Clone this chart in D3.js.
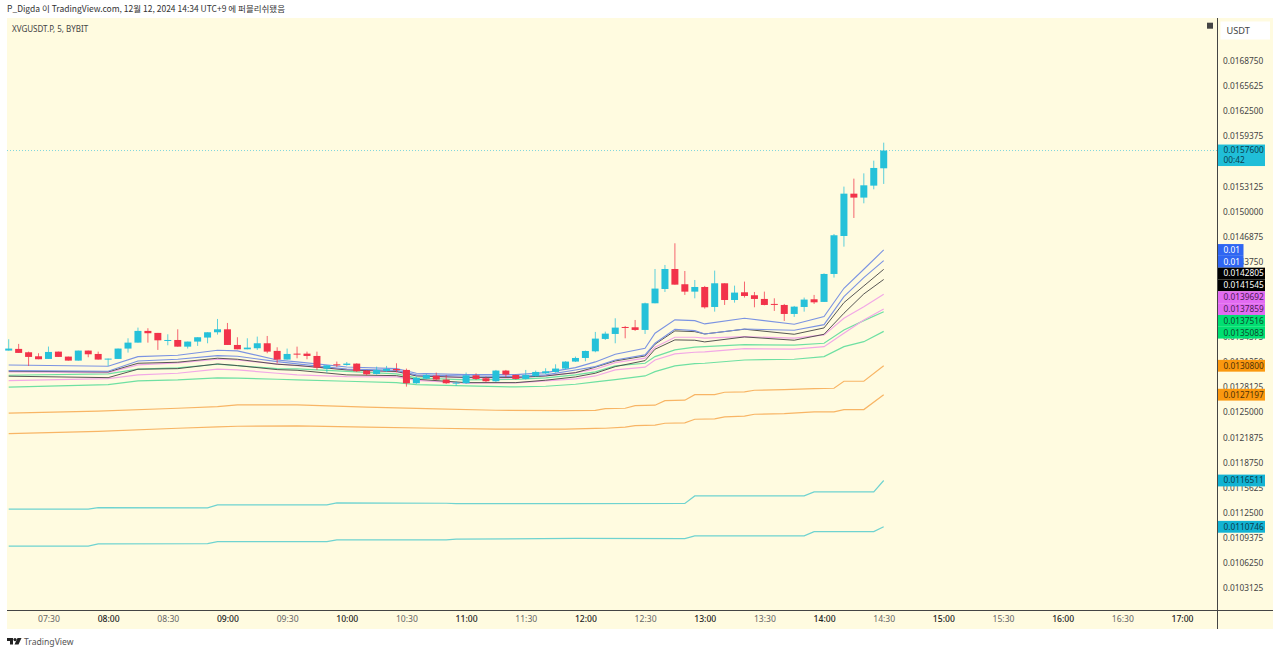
<!DOCTYPE html>
<html>
<head>
<meta charset="utf-8">
<script src="https://cdn.jsdelivr.net/npm/d3@7"></script>
<style>
  html, body { margin: 0; background: #fff; overflow: hidden; }
  text { font-family: "Noto Sans", "Noto Sans CJK KR", sans-serif; }
</style>
</head>
<body>
<div id="chart"></div>
<script>
// 5 minute candles, one entry per bar starting at 07:10
var firstBar = "07:10";
var opens = [0.013269,0.013290,0.013248,0.013198,0.013165,0.013256,0.013194,0.013144,0.013269,0.013227,0.013157,0.013165,0.013294,0.013368,0.013514,0.013489,0.013393,0.013401,0.013318,0.013381,0.013431,0.013497,0.013534,0.013339,0.013285,0.013298,0.013360,0.013265,0.013157,0.013231,
  0.013231,0.013202,0.013044,0.013098,0.013090,0.013107,0.013020,0.012978,0.013015,0.013040,0.013028,0.012862,0.012920,0.012957,0.012908,0.012858,0.012862,0.012961,0.012924,0.012887,0.013020,0.012966,0.012916,0.012949,0.012986,0.013003,0.013045,0.013132,0.013177,0.013260,
  0.013414,0.013476,0.013563,0.013559,0.013526,0.013858,0.014036,0.014285,0.014095,0.014003,0.014061,0.013812,0.014107,0.013899,0.013995,0.013958,0.013912,0.013850,0.013837,0.013725,0.013812,0.013908,0.013875,0.014223,0.014696,0.015223,0.015174,0.015323,0.015539];
var highs = [0.013410,0.013352,0.013256,0.013236,0.013319,0.013256,0.013194,0.013269,0.013269,0.013256,0.013169,0.013294,0.013422,0.013555,0.013547,0.013489,0.013472,0.013534,0.013381,0.013435,0.013497,0.013663,0.013613,0.013435,0.013422,0.013443,0.013451,0.013310,0.013294,0.013318,
  0.013256,0.013256,0.013086,0.013132,0.013127,0.013111,0.013028,0.013069,0.013078,0.013111,0.013045,0.012945,0.012978,0.012995,0.012966,0.012887,0.012995,0.012986,0.012945,0.013028,0.013028,0.012970,0.013028,0.013020,0.013049,0.013098,0.013136,0.013194,0.013269,0.013501,
  0.013505,0.013671,0.013576,0.013650,0.013866,0.014285,0.014335,0.014605,0.014260,0.014148,0.014074,0.014265,0.014107,0.014078,0.014128,0.013999,0.014003,0.013920,0.013850,0.013825,0.013929,0.013962,0.014231,0.014721,0.015311,0.015410,0.015476,0.015634,0.015858];
var lows = [0.013269,0.013240,0.013078,0.013161,0.013165,0.013190,0.013144,0.013144,0.013186,0.013157,0.013078,0.013165,0.013244,0.013368,0.013368,0.013277,0.013335,0.013318,0.013294,0.013327,0.013360,0.013468,0.013339,0.013285,0.013285,0.013277,0.013236,0.013111,0.013157,0.013173,
  0.013161,0.013028,0.012995,0.013065,0.013082,0.013003,0.012961,0.012970,0.013003,0.012999,0.012820,0.012854,0.012912,0.012899,0.012854,0.012829,0.012854,0.012903,0.012878,0.012878,0.012937,0.012908,0.012908,0.012945,0.012978,0.012995,0.013036,0.013127,0.013136,0.013248,
  0.013401,0.013360,0.013422,0.013514,0.013476,0.013858,0.013999,0.014090,0.013962,0.013920,0.013792,0.013754,0.013837,0.013866,0.013929,0.013808,0.013833,0.013763,0.013638,0.013688,0.013754,0.013850,0.013875,0.014178,0.014563,0.014920,0.015103,0.015277,0.015344];
var closes = [0.013294,0.013240,0.013190,0.013161,0.013252,0.013190,0.013144,0.013269,0.013223,0.013157,0.013169,0.013294,0.013368,0.013514,0.013485,0.013397,0.013401,0.013318,0.013381,0.013435,0.013497,0.013534,0.013339,0.013285,0.013306,0.013360,0.013256,0.013157,0.013227,0.013219,
  0.013202,0.013057,0.013086,0.013086,0.013107,0.013011,0.012974,0.013028,0.013040,0.013024,0.012862,0.012928,0.012966,0.012908,0.012862,0.012870,0.012961,0.012916,0.012887,0.013020,0.012970,0.012916,0.012966,0.013003,0.013011,0.013045,0.013132,0.013177,0.013264,0.013418,
  0.013480,0.013555,0.013555,0.013526,0.013858,0.014041,0.014285,0.014090,0.014003,0.014061,0.013808,0.014107,0.013899,0.013991,0.013949,0.013912,0.013837,0.013841,0.013725,0.013816,0.013904,0.013870,0.014223,0.014705,0.015223,0.015174,0.015327,0.015543,0.015760];

// Envelope lines, read at these times
var bandTimes = ["07:10","08:00","08:15","08:35","08:55","09:05","09:25","09:35","10:00","10:25","10:35","11:00","11:25","11:40","11:55","12:05","12:15","12:30","12:35","12:45","12:55","13:00","13:20","13:45","14:00","14:10","14:20","14:30"];
var blueUpper = [0.013090,0.013074,0.013194,0.013211,0.013273,0.013265,0.013152,0.013128,0.013065,0.013044,0.012987,0.012969,0.012969,0.012994,0.013057,0.013128,0.013223,0.013298,0.013485,0.013651,0.013642,0.013601,0.013672,0.013597,0.013692,0.014045,0.014282,0.014522];
var blueLower = [0.013019,0.013012,0.013140,0.013161,0.013206,0.013199,0.013131,0.013103,0.013040,0.013022,0.012966,0.012953,0.012947,0.012966,0.013028,0.013069,0.013152,0.013215,0.013360,0.013535,0.013517,0.013476,0.013538,0.013522,0.013592,0.013941,0.014177,0.014389];
var blackUpper = [0.013012,0.013003,0.013111,0.013124,0.013174,0.013161,0.013099,0.013084,0.013028,0.013009,0.012953,0.012935,0.012935,0.012953,0.012994,0.013062,0.013140,0.013202,0.013348,0.013514,0.013505,0.013476,0.013535,0.013472,0.013551,0.013866,0.014074,0.0142805];
var blackLower = [0.012950,0.012932,0.013037,0.013044,0.013103,0.013082,0.013032,0.013024,0.012966,0.012957,0.012912,0.012870,0.012870,0.012900,0.012941,0.012987,0.013069,0.013144,0.013286,0.013402,0.013398,0.013377,0.013439,0.013398,0.013472,0.013734,0.013974,0.0141545];
var pinkUpper = [0.013003,0.012994,0.013090,0.013115,0.013161,0.013152,0.013103,0.013080,0.013034,0.013003,0.012960,0.012928,0.012928,0.012953,0.012994,0.013037,0.013119,0.013174,0.013311,0.013435,0.013435,0.013423,0.013443,0.013423,0.013464,0.013672,0.013816,0.0139692];
var pinkLower = [0.012895,0.012920,0.012966,0.012987,0.013037,0.013028,0.012987,0.012966,0.012945,0.012941,0.012897,0.012862,0.012866,0.012891,0.012916,0.012953,0.013028,0.013062,0.013152,0.013227,0.013248,0.013252,0.013293,0.013286,0.013318,0.013485,0.013651,0.0137859];
var greenUpper = [0.012962,0.012978,0.013037,0.013053,0.013099,0.013082,0.013044,0.013040,0.013009,0.012978,0.012928,0.012903,0.012910,0.012928,0.012966,0.013003,0.013078,0.013111,0.013194,0.013277,0.013311,0.013318,0.013343,0.013336,0.013360,0.013526,0.013642,0.0137516];
var greenLower = [0.012813,0.012845,0.012891,0.012903,0.012928,0.012925,0.012912,0.012903,0.012887,0.012870,0.012845,0.012829,0.012816,0.012825,0.012850,0.012879,0.012907,0.012953,0.013007,0.013078,0.013106,0.013111,0.013152,0.013161,0.013194,0.013318,0.013380,0.0135083];

var orangeTimes = ["07:10","07:55","08:35","08:55","09:05","09:35","10:10","10:45","11:15","11:50","12:05","12:10","12:20","12:25","12:35","12:40","12:50","12:55","13:05","13:10","13:20","13:25","13:40","13:55","14:05","14:10","14:20","14:30"];
var orangeUpper = [0.012489,0.012514,0.012551,0.012571,0.012592,0.012592,0.012564,0.012542,0.012526,0.012521,0.012524,0.012546,0.012551,0.012584,0.012589,0.012646,0.012651,0.012720,0.012720,0.012750,0.012754,0.012775,0.012783,0.012795,0.012800,0.012887,0.012887,0.0130800];
var orangeLower = [0.012235,0.012262,0.012302,0.012318,0.012327,0.012331,0.012315,0.012302,0.012290,0.012290,0.012300,0.012302,0.012315,0.012335,0.012340,0.012364,0.012368,0.012414,0.012418,0.012443,0.012452,0.012476,0.012484,0.012505,0.012505,0.012534,0.012534,0.0127197];

var tealTimes = ["07:10","07:50","07:55","08:50","08:55","09:50","09:55","10:50","10:55","11:55","12:50","12:55","13:50","13:55","14:25","14:30"];
var tealUpper = [0.011294,0.011294,0.011314,0.011310,0.011347,0.011347,0.011372,0.011368,0.011363,0.011363,0.011366,0.011459,0.011459,0.011509,0.011509,0.0116511];
var tealLower = [0.010833,0.010833,0.010862,0.010865,0.010890,0.010890,0.010912,0.010912,0.010920,0.010930,0.010928,0.010961,0.010961,0.011015,0.011015,0.0110746];

var priceTicks = [0.016875,0.0165625,0.01625,0.0159375,0.015625,0.0153125,0.015,0.0146875,0.014375,0.0140625,0.01375,0.0134375,0.013125,0.0128125,0.0125,0.0121875,0.011875,0.0115625,0.01125,0.0109375,0.010625,0.0103125];
var timeTicks = ["07:30","08:00","08:30","09:00","09:30","10:00","10:30","11:00","11:30","12:00","12:30","13:00","13:30","14:00","14:30","15:00","15:30","16:00","16:30","17:00"];

var lastPrice = 0.01576;
var countdown = "00:42";

var width = 1280, height = 654;
var plot = { left: 7, right: 1217, top: 18, bottom: 610, panelRight: 1273, panelBottom: 629 };
var upColor = "#26c1d9", downColor = "#f2334a";
var axisFont = 8.3;

var parseTime = d3.timeParse("%H:%M");
var formatPrice = d3.format(".7f");

var xScale = d3.scaleTime()
  .domain([parseTime(firstBar), parseTime("17:00")])
  .range([8.7, 1182]);
var yScale = d3.scaleLinear()
  .domain([0.0103125, 0.016875])
  .range([588, 61]);

var candles = opens.map(function(o, i) {
  return {
    time: d3.timeMinute.offset(parseTime(firstBar), i * 5),
    open: o, high: highs[i], low: lows[i], close: closes[i]
  };
});

var bands = [
  { times: tealTimes, values: tealUpper, color: "#6fd3d0", w: 1.2 },
  { times: tealTimes, values: tealLower, color: "#6fd3d0", w: 1.2 },
  { times: orangeTimes, values: orangeUpper, color: "#f8b565", w: 1.2 },
  { times: orangeTimes, values: orangeLower, color: "#f8b565", w: 1.2 },
  { times: bandTimes, values: greenUpper, color: "#6fe0a2", w: 1.2 },
  { times: bandTimes, values: greenLower, color: "#6fe0a2", w: 1.2 },
  { times: bandTimes, values: pinkUpper, color: "#f2a8e6", w: 1.2 },
  { times: bandTimes, values: pinkLower, color: "#f2a8e6", w: 1.2 },
  { times: bandTimes, values: blackUpper, color: "#444444", w: 0.9 },
  { times: bandTimes, values: blackLower, color: "#444444", w: 0.9 },
  { times: bandTimes, values: blueUpper, color: "#7b93e2", w: 1.1 },
  { times: bandTimes, values: blueLower, color: "#7b93e2", w: 1.1 }
];

var svg = d3.select("#chart").append("svg")
  .attr("width", width)
  .attr("height", height)
  .style("display", "block");

// Panel
svg.append("rect")
  .attr("x", plot.left).attr("y", plot.top)
  .attr("width", plot.panelRight - plot.left)
  .attr("height", plot.panelBottom - plot.top)
  .attr("fill", "#fffbe0");

// Last price line
svg.append("line")
  .attr("x1", plot.left).attr("x2", plot.right)
  .attr("y1", yScale(lastPrice)).attr("y2", yScale(lastPrice))
  .attr("stroke", "#7fd6dc")
  .attr("stroke-dasharray", "1 2");

// Envelope lines
var line = d3.line()
  .x(function(d) { return xScale(d.time); })
  .y(function(d) { return yScale(d.value); });

svg.append("g").selectAll("path")
  .data(bands)
  .enter()
  .append("path")
  .attr("fill", "none")
  .attr("stroke", function(d) { return d.color; })
  .attr("stroke-width", function(d) { return d.w; })
  .attr("d", function(d) {
    return line(d.values.map(function(v, i) {
      return { time: parseTime(d.times[i]), value: v };
    }));
  });

// Candles
var candle = svg.append("g").selectAll("g")
  .data(candles)
  .enter()
  .append("g")
  .attr("fill", function(d) { return d.close >= d.open ? upColor : downColor; })
  .attr("stroke", function(d) { return d.close >= d.open ? upColor : downColor; });

candle.append("line")
  .attr("x1", function(d) { return xScale(d.time); })
  .attr("x2", function(d) { return xScale(d.time); })
  .attr("y1", function(d) { return yScale(d.high); })
  .attr("y2", function(d) { return yScale(d.low); })
  .attr("stroke-opacity", 0.75);

candle.append("rect")
  .attr("x", function(d) { return xScale(d.time) - 3.5; })
  .attr("width", 7)
  .attr("y", function(d) { return yScale(Math.max(d.open, d.close)); })
  .attr("height", function(d) { return Math.max(1, Math.abs(yScale(d.open) - yScale(d.close))); })
  .attr("stroke", "none");

// Axes
var priceAxis = svg.append("g")
  .attr("transform", "translate(" + plot.right + ",0)")
  .call(d3.axisRight(yScale).tickValues(priceTicks).tickFormat(formatPrice).tickSize(0).tickPadding(6));
priceAxis.select(".domain").remove();
priceAxis.selectAll("text").attr("font-size", axisFont).attr("fill", "#444");

var timeAxis = svg.append("g")
  .attr("transform", "translate(0," + plot.bottom + ")")
  .call(d3.axisBottom(xScale)
    .tickValues(timeTicks.map(parseTime))
    .tickFormat(d3.timeFormat("%H:%M"))
    .tickSize(0).tickPadding(6));
timeAxis.select(".domain").remove();
timeAxis.selectAll("text")
  .attr("font-size", axisFont + 0.3)
  .attr("fill", function(d) { return d.getMinutes() === 0 ? "#222" : "#666"; })
  .attr("font-weight", function(d) { return d.getMinutes() === 0 ? 500 : 400; });

svg.append("line")
  .attr("x1", plot.left).attr("x2", plot.panelRight)
  .attr("y1", plot.bottom + 0.5).attr("y2", plot.bottom + 0.5)
  .attr("stroke", "#444");
svg.append("line")
  .attr("x1", plot.right + 0.5).attr("x2", plot.right + 0.5)
  .attr("y1", plot.top).attr("y2", plot.panelBottom)
  .attr("stroke", "#444");

// Price labels stacked on the right, pushed down where they would overlap
var labelHeight = 11.8;
var priceLabels = [
  { value: blueUpper[27], text: "0.01", fill: "#2f66f2", color: "#fff", w: 25.5 },
  { value: blueLower[27], text: "0.01", fill: "#2f66f2", color: "#fff", w: 25.5 },
  { value: blackUpper[27], fill: "#000", color: "#fff" },
  { value: blackLower[27], fill: "#000", color: "#fff" },
  { value: pinkUpper[27], fill: "#e26bf2", color: "#4a1d52" },
  { value: pinkLower[27], fill: "#e26bf2", color: "#4a1d52" },
  { value: greenUpper[27], fill: "#00df72", color: "#0b4a2c" },
  { value: greenLower[27], fill: "#00df72", color: "#0b4a2c" },
  { value: orangeUpper[27], fill: "#fb980f", color: "#4d3208" },
  { value: orangeLower[27], fill: "#fb980f", color: "#4d3208" },
  { value: tealUpper[15], fill: "#12b3d3", color: "#0c3e4d" },
  { value: tealLower[15], fill: "#12b3d3", color: "#0c3e4d" }
];
var prevY = -Infinity;
priceLabels.forEach(function(d) {
  d.y = Math.max(yScale(d.value), prevY + labelHeight);
  prevY = d.y;
});

var labelGroup = svg.append("g").selectAll("g")
  .data(priceLabels)
  .enter()
  .append("g")
  .attr("transform", function(d) { return "translate(" + (plot.right + 1) + "," + d.y + ")"; });
labelGroup.append("rect")
  .attr("y", -labelHeight / 2)
  .attr("width", function(d) { return d.w || 47; })
  .attr("height", labelHeight)
  .attr("fill", function(d) { return d.fill; });
labelGroup.append("text")
  .attr("x", 5.5)
  .attr("dy", "0.35em")
  .attr("font-size", axisFont)
  .attr("fill", function(d) { return d.color; })
  .text(function(d) { return d.text || formatPrice(d.value); });

// Last price label with countdown
var lastY = yScale(lastPrice);
svg.append("rect")
  .attr("x", plot.right + 1).attr("y", lastY - 6)
  .attr("width", 47).attr("height", 21.5)
  .attr("fill", "#20bed8");
svg.append("text")
  .attr("x", plot.right + 6.5).attr("y", lastY)
  .attr("dy", "0.35em").attr("font-size", axisFont).attr("fill", "#0b4150")
  .text(formatPrice(lastPrice));
svg.append("text")
  .attr("x", plot.right + 6.5).attr("y", lastY + 10)
  .attr("dy", "0.35em").attr("font-size", axisFont).attr("fill", "#0b4150")
  .text(countdown);

// USDT box and corner square
svg.append("rect")
  .attr("x", 1220.5).attr("y", 21.5).attr("width", 49.5).attr("height", 18)
  .attr("fill", "#fff");
svg.append("text")
  .attr("x", 1226.5).attr("y", 30.5).attr("dy", "0.35em")
  .attr("font-size", 9.2).attr("fill", "#444")
  .text("USDT");
svg.append("rect")
  .attr("x", 1207).attr("y", 22.7).attr("width", 6).attr("height", 6)
  .attr("fill", "#444");

// Header and symbol
svg.append("text")
  .attr("x", 7).attr("y", 9.5).attr("dy", "0.35em")
  .attr("font-size", 8.5).attr("fill", "#333")
  .style("font-family", "'Noto Sans CJK KR', 'Noto Sans', sans-serif")
  .text("P_Digda 이 TradingView.com, 12월 12, 2024 14:34 UTC+9 에 퍼블리쉬됐음");
svg.append("text")
  .attr("x", 12).attr("y", 29).attr("dy", "0.35em")
  .attr("font-size", 8).attr("fill", "#444")
  .text("XVGUSDT.P, 5, BYBIT");

// Footer logo
var logo = svg.append("g").attr("transform", "translate(7,638)").attr("fill", "#222");
logo.append("path").attr("d", "M0 0H6V6.5H3V3H0Z");
logo.append("circle").attr("cx", 8).attr("cy", 1.6).attr("r", 1.6);
logo.append("path").attr("d", "M10.5 0H14.5L11.5 6.5H7.5Z");
svg.append("text")
  .attr("x", 24).attr("y", 641.5).attr("dy", "0.35em")
  .attr("font-size", 8.6).attr("fill", "#555")
  .text("TradingView");
</script>
</body>
</html>
